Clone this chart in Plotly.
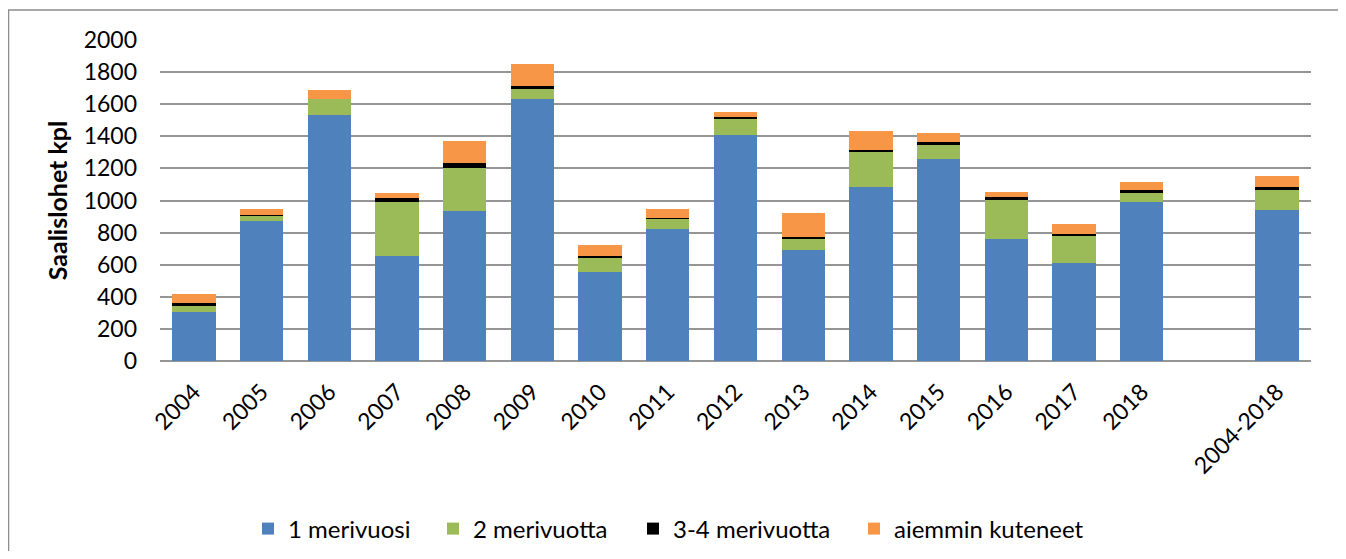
import plotly.graph_objects as go

categories = ["2004", "2005", "2006", "2007", "2008", "2009", "2010", "2011",
              "2012", "2013", "2014", "2015", "2016", "2017", "2018", " ", "2004-2018"]

meri1 = [305, 872, 1530, 655, 935, 1630, 555, 820, 1410, 692, 1082, 1261, 762, 613, 991, None, 941]
meri2 = [38, 34, 100, 338, 268, 70, 89, 65, 102, 74, 218, 89, 239, 172, 60, None, 129]
meri34 = [20, 4, 0, 22, 30, 12, 8, 6, 8, 7, 13, 12, 21, 8, 12, None, 12]
aiemmin = [52, 34, 60, 30, 140, 140, 73, 54, 34, 151, 120, 58, 33, 63, 50, None, 71]

series_names = ["1 merivuosi", "2 merivuotta", "3-4 merivuotta", "aiemmin kuteneet"]
series_values = [meri1, meri2, meri34, aiemmin]
series_colors = ["#4F81BD", "#9BBB59", "#000000", "#F79646"]

y_ticks = list(range(0, 2001, 200))

FONT = "Lato, 'Open Sans', sans-serif"

# figure geometry (page is offset by the 8px body margin)
OFF = 8
W, H = 1334, 543
L = 160 - OFF
T = 40 - OFF
R = W - (1311 - OFF)
B = H - (361 - OFF)
pw = W - L - R
ph = H - T - B


def px_x(p):
    return (p - OFF - L) / pw


def px_y(p):
    return (H - B - (p - OFF)) / ph


# legend text start positions (page px) for each series
legend_text_x = [288, 473, 673, 894]
legend_keys = ["legend", "legend2", "legend3", "legend4"]

fig = go.Figure()
for name, vals, col, lk in zip(series_names, series_values, series_colors, legend_keys):
    fig.add_trace(go.Bar(
        x=categories, y=vals, name=name, legend=lk,
        marker=dict(color=col, line=dict(width=0)),
    ))

legend_common = dict(
    orientation="h",
    yanchor="middle",
    y=px_y(529),
    xanchor="left",
    font=dict(family=FONT, size=24, color="black"),
    bgcolor="rgba(0,0,0,0)",
    borderwidth=0,
)

layout_legends = {}
for lk, tx in zip(legend_keys, legend_text_x):
    layout_legends[lk] = dict(legend_common, x=px_x(tx - 40))

fig.update_layout(
    width=W, height=H,
    barmode="stack",
    bargap=0.36,
    plot_bgcolor="white",
    paper_bgcolor="white",
    margin=dict(l=L, r=R, t=T, b=B, autoexpand=False),
    font=dict(family=FONT, size=23, color="black"),
    showlegend=True,
    xaxis=dict(
        type="category",
        categoryorder="array",
        categoryarray=categories,
        range=[-0.5, len(categories) - 0.5],
        tickangle=-45,
        showgrid=False,
        showline=False,
        ticks="",
        tickfont=dict(family=FONT, size=23, color="black"),
        ticklabelstandoff=12,
        automargin=False,
    ),
    yaxis=dict(
        range=[0, 2000],
        tickvals=y_ticks,
        ticktext=[str(v) for v in y_ticks],
        showgrid=True,
        gridcolor="#969696",
        gridwidth=2,
        zeroline=True,
        zerolinecolor="#969696",
        zerolinewidth=2,
        showline=False,
        ticks="",
        tickfont=dict(family=FONT, size=23, color="black"),
        ticklabelstandoff=22,
        title=dict(text="<b>Saalislohet kpl</b>",
                   font=dict(family=FONT, size=25, color="black"), standoff=8),
        automargin=False,
    ),
    shapes=[dict(
        type="rect", xref="paper", yref="paper",
        x0=px_x(8.5), x1=px_x(1340), y0=px_y(600), y1=px_y(10),
        line=dict(color="#8c8c8c", width=1.5),
        fillcolor="rgba(0,0,0,0)", layer="below",
    )],
    **layout_legends,
)

fig.write_html("out.html")
